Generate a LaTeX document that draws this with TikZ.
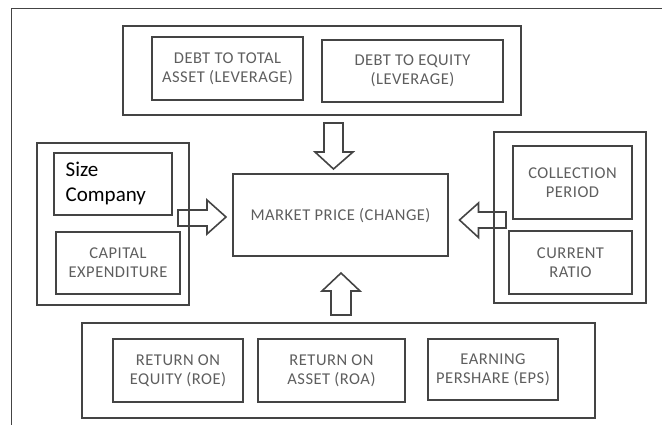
\documentclass[tikz,border=0pt]{standalone}
\usepackage{fontspec}
\setmainfont{Carlito}
\newfontfamily\lblfont[LetterSpace=3]{Carlito}
\definecolor{linegray}{HTML}{444444}
\definecolor{textgray}{HTML}{5E5E5E}
\tikzset{
  box/.style={draw=linegray, line width=1.7pt, rectangle, inner sep=0pt, fill=none},
  lbl/.style={text=textgray, font=\lblfont\fontsize{16.5}{19}\selectfont, align=center, inner sep=0pt},
  blockarrow/.style={draw=linegray, line width=1.6pt, line join=miter},
  frame/.style={draw=linegray, line width=1.8pt}
}
\begin{document}
\begin{tikzpicture}[x=1pt,y=-1pt]
\useasboundingbox (0,0) rectangle (662,425);
% outer frame
\draw[frame] (11.5,430) -- (11.5,8.5) -- (670,8.5);
% top group
\node[box, minimum width=398pt, minimum height=89pt] (topg) at (322,70.5) {};
\node[box, minimum width=151pt, minimum height=63pt] (t1) at (227.5,68.5) {};
\node[lbl] at (t1) {DEBT TO TOTAL\\ASSET (LEVERAGE)};
\node[box, minimum width=181pt, minimum height=62pt] (t2) at (412.5,71) {};
\node[lbl] at (t2) {DEBT TO EQUITY\\(LEVERAGE)};
% center
\node[box, minimum width=215pt, minimum height=82pt] (m) at (340.5,215) {};
\node[lbl] at (340.5,216) {MARKET PRICE (CHANGE)};
% left group
\node[box, minimum width=152pt, minimum height=162pt] (leftg) at (113,224) {};
\node[box, minimum width=118pt, minimum height=62pt] (l1) at (113,184) {};
\node[anchor=west, align=left, inner sep=0pt, font=\fontsize{21}{25}\selectfont] at (65.5,183) {Size\\Company};
\node[box, minimum width=124pt, minimum height=62pt] (l2) at (118,263) {};
\node[lbl] at (l2) {CAPITAL\\EXPENDITURE};
% right group
\node[box, minimum width=152pt, minimum height=171pt] (rightg) at (570,217.5) {};
\node[box, minimum width=119pt, minimum height=73pt] (r1) at (572.5,182.5) {};
\node[lbl] at (r1) {COLLECTION\\PERIOD};
\node[box, minimum width=123pt, minimum height=63pt] (r2) at (570.5,262.5) {};
\node[lbl] at (r2) {CURRENT\\RATIO};
% bottom group
\node[box, minimum width=513pt, minimum height=95pt] (botg) at (338.5,370.5) {};
\node[box, minimum width=130pt, minimum height=63pt] (b1) at (178,370.5) {};
\node[lbl] at (b1) {RETURN ON\\EQUITY (ROE)};
\node[box, minimum width=147pt, minimum height=63pt] (b2) at (331.5,370.5) {};
\node[lbl] at (b2) {RETURN ON\\ASSET (ROA)};
\node[box, minimum width=130pt, minimum height=61pt] (b3) at (493,369.5) {};
\node[lbl] at (b3) {EARNING\\PERSHARE (EPS)};
% block arrows
% down (top -> center)
\draw[blockarrow] (324,123) -- (343,123) -- (343,152) -- (353,152) -- (333.5,169)
  -- (315,152) -- (324,152) -- cycle;
% up (bottom -> center)
\draw[blockarrow] (331,315) -- (351,315) -- (351,291) -- (360,291) -- (341,273)
  -- (322,291) -- (331,291) -- cycle;
% right (left group -> center)
\draw[blockarrow] (178,210) -- (207,210) -- (207,200) -- (226,217) -- (207,234)
  -- (207,226) -- (178,226) -- cycle;
% left (right group -> center)
\draw[blockarrow] (506,212) -- (478.5,212) -- (478.5,203) -- (459.5,220) -- (478.5,237.5)
  -- (478.5,228) -- (506,228) -- cycle;
\end{tikzpicture}
\end{document}
